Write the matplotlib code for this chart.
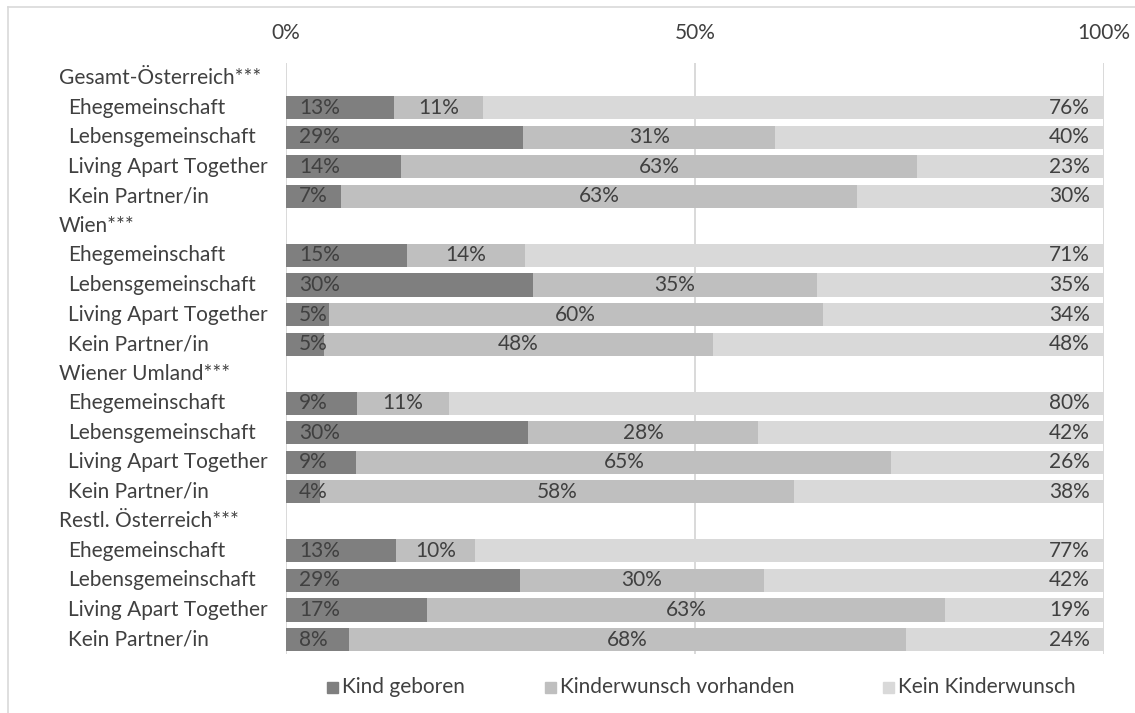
import matplotlib
matplotlib.use("Agg")
import matplotlib.pyplot as plt
import matplotlib.transforms as mtransforms
import numpy as np
from matplotlib.lines import Line2D
from matplotlib.patches import Rectangle

W, H = 1135, 713

categories = [
    "Gesamt-Österreich***", "Ehegemeinschaft", "Lebensgemeinschaft", "Living Apart Together", "Kein Partner/in",
    "Wien***", "Ehegemeinschaft", "Lebensgemeinschaft", "Living Apart Together", "Kein Partner/in",
    "Wiener Umland***", "Ehegemeinschaft", "Lebensgemeinschaft", "Living Apart Together", "Kein Partner/in",
    "Restl. Österreich***", "Ehegemeinschaft", "Lebensgemeinschaft", "Living Apart Together", "Kein Partner/in",
]
nan = np.nan
kind_geboren = [nan, 13.2, 29.0, 14.1, 6.7, nan, 14.8, 30.2, 5.2, 4.6,
                nan, 8.7, 29.6, 8.6, 4.1, nan, 13.4, 28.6, 17.2, 7.7]
kinderwunsch = [nan, 10.9, 30.8, 63.0, 63.1, nan, 14.4, 34.7, 60.4, 47.6,
                nan, 11.2, 28.1, 65.4, 58.0, nan, 9.7, 29.8, 63.4, 68.1]
kein_wunsch = [nan, 75.9, 40.2, 22.9, 30.2, nan, 70.8, 35.1, 34.4, 47.8,
               nan, 80.1, 42.3, 26.0, 37.9, nan, 76.9, 41.6, 19.4, 24.2]
series_names = ["Kind geboren", "Kinderwunsch vorhanden", "Kein Kinderwunsch"]
colors = ["#7f7f7f", "#bfbfbf", "#d9d9d9"]
text_color = "#404040"
grid_color = "#d9d9d9"

plt.rcParams["font.family"] = ["Lato", "DejaVu Sans"]
FS = 15

fig = plt.figure(figsize=(W / 100, H / 100), dpi=100)
ax = fig.add_axes([286 / W, 1 - 654.3 / H, (1104 - 286) / W, (654.3 - 63.4) / H])

n = len(categories)
y = np.arange(n)
left = np.zeros(n)
for vals, col in zip([kind_geboren, kinderwunsch, kein_wunsch], colors):
    v = np.nan_to_num(np.array(vals, dtype=float))
    ax.barh(y, v, left=left, height=0.78, color=col, zorder=3)
    left = left + v

# data labels: first inside base, middle centered, last inside end
for i in range(n):
    if np.isnan(kind_geboren[i]):
        continue
    a, b, c = kind_geboren[i], kinderwunsch[i], kein_wunsch[i]
    ax.annotate(f"{round(a)}%", (0, i), xytext=(13, 0), textcoords="offset pixels",
                ha="left", va="center", fontsize=FS, color=text_color, zorder=4)
    ax.text(a + b / 2, i, f"{round(b)}%", ha="center", va="center",
            fontsize=FS, color=text_color, zorder=4)
    ax.annotate(f"{round(c)}%", (a + b + c, i), xytext=(-14, 0), textcoords="offset pixels",
                ha="right", va="center", fontsize=FS, color=text_color, zorder=4)

ax.set_xlim(0, 100)
ax.set_ylim(n - 0.5, -0.5)
ax.xaxis.tick_top()
ax.set_xticks([0, 50, 100])
ax.set_xticklabels(["0%", "50%", "100%"])
ax.tick_params(axis="x", length=0, pad=15, labelsize=FS, labelcolor=text_color)
ax.set_yticks([])
for s in ax.spines.values():
    s.set_visible(False)
for gx in [0, 50, 100]:
    ax.axvline(gx, color=grid_color, linewidth=1.4, zorder=1)

# category labels, indented under the group headers
trans = mtransforms.blended_transform_factory(fig.transFigure, ax.transData)
for i, lab in enumerate(categories):
    x_px = 59 if lab.endswith("***") else 68
    ax.text(x_px / W, i, lab, transform=trans, ha="left", va="center",
            fontsize=FS, color=text_color)

# legend
leg_sq = [327, 545, 883]
for name, col, sx in zip(series_names, colors, leg_sq):
    fig.add_artist(Rectangle((sx / W, 1 - 693 / H), 11 / W, 11 / H,
                             transform=fig.transFigure, color=col))
    fig.text((sx + 15) / W, 1 - 687 / H, name, ha="left", va="center",
             fontsize=FS, color=text_color)

# chart area border (top and left edges visible)
fig.add_artist(Line2D([8 / W, 8 / W], [0, 1 - 7 / H], transform=fig.transFigure,
                      color=grid_color, linewidth=1.2))
fig.add_artist(Line2D([8 / W, 1], [1 - 7 / H, 1 - 7 / H], transform=fig.transFigure,
                      color=grid_color, linewidth=1.2))

fig.savefig("out.png", dpi=100, facecolor="white")
